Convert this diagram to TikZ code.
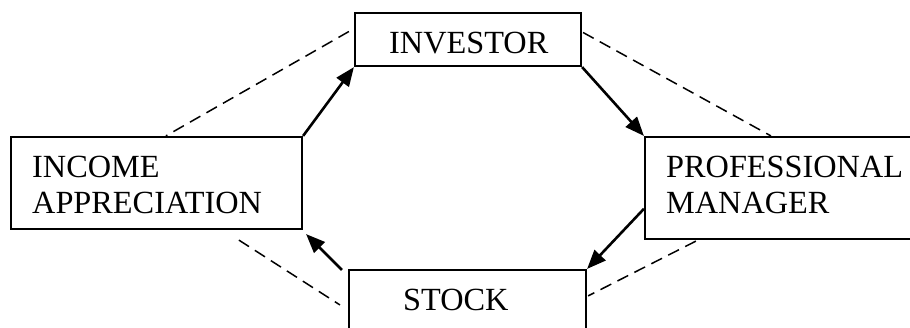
\documentclass[tikz,border=0pt]{standalone}
\usepackage{fontspec}
\setmainfont{Liberation Serif}
\usetikzlibrary{arrows.meta,calc}
\begin{document}
\begin{tikzpicture}[x=1pt,y=-1pt,
  box/.style={draw,line width=2.2pt,inner sep=0pt,rectangle},
  lbl/.style={anchor=base west,inner sep=0pt,font=\fontsize{32.3}{36}\selectfont},
  flow/.style={line width=2.6pt,-{Triangle[length=19pt,width=15pt]}},
  tie/.style={line width=1.5pt,dash pattern=on 12pt off 7pt}]
\clip (0,0) rectangle (910,327);
\fill[white] (0,0) rectangle (910,327);
% boxes
\node[box,minimum width=226pt,minimum height=53pt] (inv) at (468,39.5) {};
\node[box,minimum width=291pt,minimum height=92pt] (inc) at (156.5,183) {};
\node[box,minimum width=320pt,minimum height=102pt] (pro) at (805,188) {};
\node[box,minimum width=237pt,minimum height=70pt] (stk) at (467.5,305) {};
% labels
\node[lbl] (invt) at (389,53) {INVESTOR};
\node[lbl] (inct1) at (32,177) {INCOME};
\node[lbl] (inct2) at (32,213) {APPRECIATION};
\node[lbl] (prot1) at (666,177) {PROFESSIONAL};
\node[lbl] (prot2) at (666,213) {MANAGER};
\node[lbl] (stkt) at (403,310) {STOCK};
% cycle arrows
\draw[flow] (inc.north east) -- (inv.south west);
\draw[flow] (inv.south east) -- (pro.north west);
\draw[flow] ($(pro.north west)!0.7!(pro.south west)$) -- (stk.north east);
\draw[flow] ([shift={(-6,1)}]stk.north west) -- ([shift={(3,4)}]inc.south east);
% dashed ties
\draw[tie] ([shift={(-5,-8)}]inv.west) -- ([shift={(156,0)}]inc.north west);
\draw[tie] ([shift={(1,-7)}]inv.east) -- ([shift={(127,0)}]pro.north west);
\draw[tie] ([shift={(52,1)}]pro.south west) -- ([shift={(1,27)}]stk.north east);
\draw[tie] ([shift={(229,10)}]inc.south west) -- ([shift={(-8,36)}]stk.north west);
\end{tikzpicture}
\end{document}
